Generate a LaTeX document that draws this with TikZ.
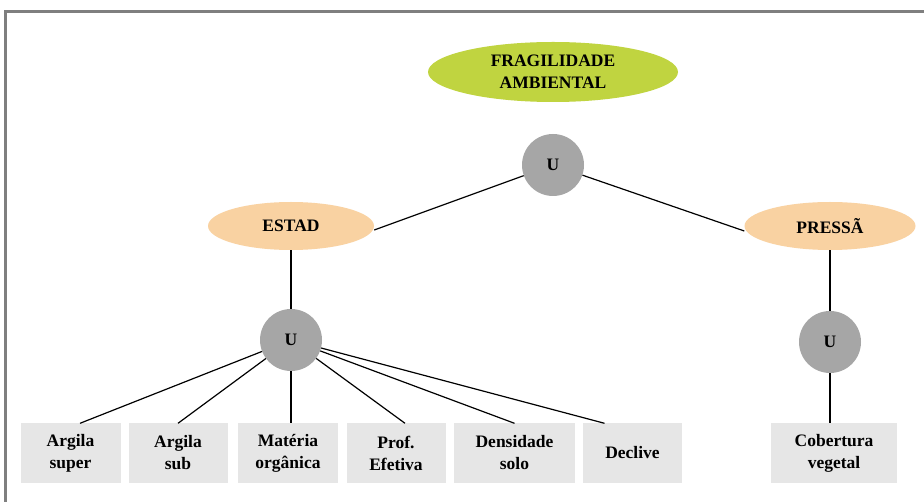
\documentclass[tikz,border=0pt]{standalone}
\usepackage{fontspec}
\setmainfont{Liberation Serif}
\usetikzlibrary{shapes.geometric}
\definecolor{greenfill}{HTML}{C0D440}
\definecolor{peach}{HTML}{F9D2A2}
\definecolor{circgray}{HTML}{A6A6A6}
\definecolor{boxgray}{HTML}{E6E6E6}
\definecolor{framegray}{HTML}{7F7F7F}
\tikzset{
  txt/.style={font=\fontsize{17.5}{22}\selectfont\bfseries, align=center, text=black},
  topell/.style={ellipse, fill=greenfill, minimum width=250pt, minimum height=60pt, inner sep=0pt, txt},
  midell/.style={ellipse, fill=peach, minimum width=166pt, minimum height=48pt, inner sep=0pt, txt},
  ucirc/.style={circle, fill=circgray, minimum size=62pt, inner sep=0pt, txt},
  leaf/.style={rectangle, fill=boxgray, minimum height=59pt, inner sep=0pt, txt},
  conn/.style={draw=black, line width=1.2pt}
}
\begin{document}
\begin{tikzpicture}[x=1pt, y=-1pt]
\useasboundingbox (0,0) rectangle (924,502);
\fill[white] (0,0) rectangle (924,502);
\coordinate (fa) at (5,502);
\coordinate (fb) at (5,12);
\coordinate (fc) at (924,12);
\draw[framegray, line width=3pt] (fa) -- (fb) -- (fc);

\node[topell] (frag) at (553,72) {FRAGILIDADE\\AMBIENTAL};
\node[ucirc] (u1) at (553,165) {U};
\node[midell] (estad) at (291,226) {ESTAD};
\node[midell, minimum width=171pt] (press) at (830,226) {PRESSÃ};
\node[ucirc] (u2) at (291,340) {U};
\node[ucirc] (u3) at (830,342) {U};

\node[leaf, minimum width=100pt] (b1) at (70.5,453) {Argila\\super};
\node[leaf, minimum width=99pt] (b2) at (178,453) {Argila\\sub};
\node[leaf, minimum width=100pt] (b3) at (288,453) {Matéria\\orgânica};
\node[leaf, minimum width=99pt] (b4) at (396,453) {Prof.\\Efetiva};
\node[leaf, minimum width=121pt] (b5) at (514.5,453) {Densidade\\solo};
\node[leaf, minimum width=99pt] (b6) at (632.5,453) {Declive};
\node[leaf, minimum width=126pt] (b7) at (834,453) {Cobertura\\vegetal};

\draw[conn] (u1) -- ([yshift=-4pt]estad.east);
\draw[conn] (u1) -- ([yshift=-5pt]press.west);
\draw[conn] (estad) -- (u2);
\draw[conn] (press) -- (u3);
\draw[conn] (u2) -- ([xshift=9.5pt]b1.north);
\draw[conn] (u2) -- (b2.north);
\draw[conn] (u2) -- ([xshift=3pt]b3.north);
\draw[conn] (u2) -- ([xshift=9pt]b4.north);
\draw[conn] (u2) -- (b5.north);
\draw[conn] (u2) -- ([xshift=-28pt]b6.north);
\draw[conn] (u3) -- (u3 |- b7.north);
\end{tikzpicture}
\end{document}
